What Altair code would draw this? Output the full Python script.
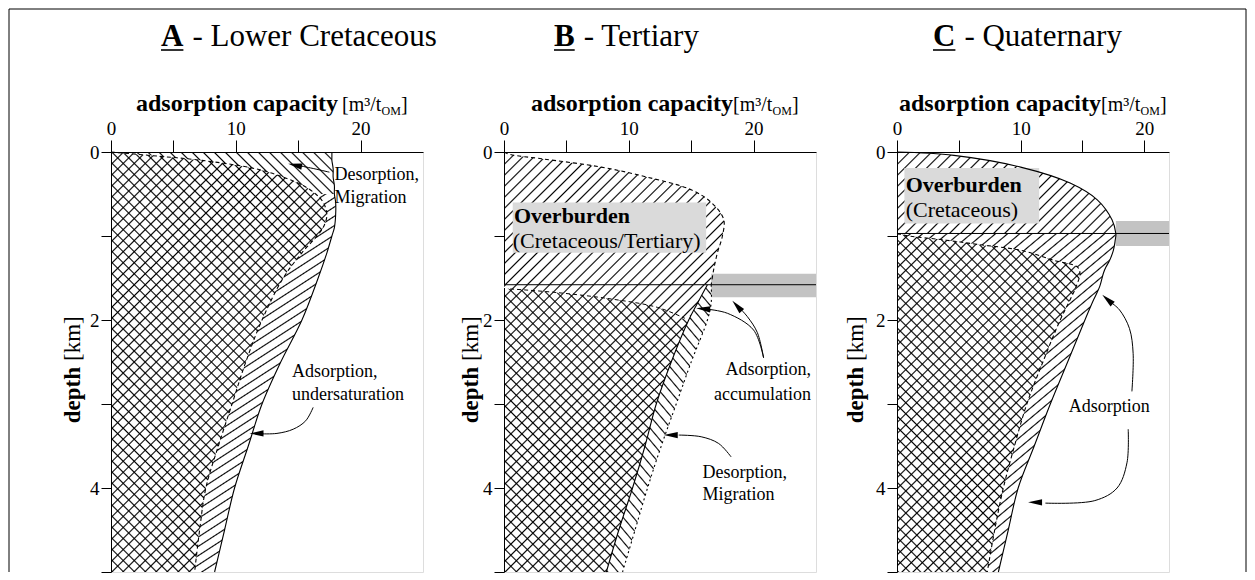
import altair as alt
import pandas as pd
import numpy as np

SERIF = "'Liberation Serif', 'Times New Roman', Times, serif"
H = 420
PY = H / 5.0
WA, WB, WC = 312, 312, 272
DOMA, DOMB, DOMC = [0, 25], [0, 25], [0, 22]
PXA, PXB, PXC = WA / 25.0, WB / 25.0, WC / 22.0

# ---------------- data ----------------
# Panel A - Lower Cretaceous
A_depth = [0, 0.05, 0.1, 0.2, 0.3, 0.4, 0.5, 0.6, 0.75, 0.9, 1.0, 1.2, 1.5, 2.0, 2.5, 3.0, 3.5, 4.0, 4.5, 5.0]
A_inner = [0, 3.8, 7.3, 11.6, 13.8, 15.4, 16.4, 17.0, 17.3, 17.0, 16.5, 15.3, 13.8, 12.1, 10.8, 9.7, 8.6, 7.6, 7.1, 6.7]
A_outer = [17.7, 17.7, 17.7, 17.8, 17.8, 17.9, 17.9, 18.0, 18.0, 17.9, 17.7, 17.3, 16.6, 15.3, 13.6, 12.1, 11.0, 9.9, 9.1, 8.3]

# Panel B - Tertiary
B_over_depth = [0, 0.03, 0.08, 0.18, 0.3, 0.45, 0.6, 0.8, 1.0, 1.2, 1.4, 1.58]
B_over_x = [0, 0.5, 3.0, 7.8, 11.5, 15.0, 16.6, 17.6, 17.5, 17.1, 16.8, 16.6]
B_low_depth = [1.58, 1.8, 2.0, 2.5, 3.0, 3.5, 4.0, 4.5, 5.0]
B_low_solid = [16.3, 15.5, 14.8, 13.4, 12.2, 11.3, 10.3, 9.2, 8.2]
B_low_dash = [16.6, 16.6, 16.3, 15.0, 13.8, 12.6, 11.5, 10.5, 9.5]
B_strip_x = [0, 0.5, 4.0, 8.6, 12.3, 14.5, 15.2, 15.8, 16.3]
B_strip_depth = [1.62, 1.63, 1.67, 1.75, 1.85, 1.98, 1.89, 1.72, 1.58]
B_base_depth = 1.58

# Panel C - Quaternary
C_up_depth = [0, 0.04, 0.18, 0.37, 0.57, 0.81, 0.97]
C_up_outer = [0, 4.6, 10.0, 14.0, 16.2, 17.4, 17.7]
C_low_depth = [0.97, 1.0, 1.05, 1.1, 1.17, 1.29, 1.37, 1.44, 1.6, 1.76, 2.0, 2.5, 3.0, 3.5, 4.0, 4.5, 5.0]
C_low_outer = [17.7, 17.7, 17.65, 17.6, 17.5, 17.2, 16.9, 16.7, 16.4, 15.9, 15.2, 13.8, 12.4, 11.1, 9.8, 9.0, 8.2]
C_low_inner = [0, 1.0, 4.0, 6.5, 10.0, 12.7, 14.6, 14.8, 14.5, 14.0, 13.2, 11.8, 10.5, 9.5, 8.6, 7.9, 7.3]
C_base_depth = 0.97

# shaded boxes: x0, x1, depth0, depth1
B_label_box = [0.7, 16.2, 0.6, 1.2]
B_band = [16.6, 25.0, 1.45, 1.73]
C_label_box = [0.6, 11.5, 0.19, 0.85]
C_band = [17.7, 22.0, 0.82, 1.12]

# annotation texts: (text, x, depth, align)
A_notes = [("Desorption,", 17.9, 0.33, "left"), ("Migration", 17.9, 0.61, "left"),
           ("Adsorption,", 14.5, 2.68, "left"), ("undersaturation", 14.5, 2.95, "left")]
B_notes = [("Adsorption,", 24.6, 2.65, "right"), ("accumulation", 24.6, 2.95, "right"),
           ("Desorption,", 15.9, 3.88, "left"), ("Migration", 15.9, 4.14, "left")]
C_notes = [("Adsorption", 13.9, 3.1, "left")]
B_over_labels = [("Overburden", 0.8, 0.85, "bold"), ("(Cretaceous/Tertiary)", 0.7, 1.14, "normal")]
C_over_labels = [("Overburden", 0.7, 0.48, "bold"), ("(Cretaceous)", 0.7, 0.77, "normal")]

# arrows: (curve x list, curve depth list, tip x, tip depth, angle)
A_arrows = [([17.5, 16.0, 14.8], [0.24, 0.19, 0.155], 14.2, 0.14, 12),
            ([16.2, 15.6, 14.6, 13.3, 12.0], [3.04, 3.2, 3.3, 3.35, 3.355], 11.1, 3.35, 0)]
B_arrows = [([20.8, 20.0, 17.9, 16.2], [2.45, 2.12, 1.92, 1.87], 15.4, 1.86, 5),
            ([20.8, 20.3, 19.5, 18.7], [2.45, 2.15, 1.96, 1.83], 18.3, 1.77, 48),
            ([18.2, 17.2, 15.8, 14.0], [3.63, 3.47, 3.39, 3.37], 12.8, 3.37, 0)]
C_arrows = [([19.0, 19.1, 18.8, 18.0, 17.3], [2.85, 2.4, 2.1, 1.88, 1.79], 16.6, 1.7, 42),
            ([18.7, 18.6, 17.8, 16.0, 12.0], [3.3, 3.7, 4.0, 4.15, 4.18], 10.6, 4.17, 0)]

X_TICKS = [0, 5, 10, 15, 20]
Y_TICKS = [0, 1, 2, 3, 4, 5]

# ---------------- styling helpers ----------------
XAXIS = alt.Axis(orient="top", values=X_TICKS, tickSize=12, tickWidth=1, tickColor="black",
                 domainColor="black", domainWidth=1, labelFont=SERIF, labelFontSize=19,
                 labelColor="black", labelPadding=2, labelFlush=False, labelOverlap=False,
                 labelAngle=0, grid=False, title=None,
                 labelExpr="datum.value % 10 === 0 ? datum.label : ''")
YAXIS = alt.Axis(orient="left", values=Y_TICKS, tickSize=10, tickWidth=1, tickColor="black",
                 domainColor="black", domainWidth=1, labelFont=SERIF, labelFontSize=19,
                 labelColor="black", labelPadding=2, labelFlush=False, labelOverlap=False,
                 grid=False, title=None,
                 labelExpr="(datum.value % 2 === 0 && datum.value < 5) ? datum.label : ''")


def xs(field, dom):
    return alt.X(f"{field}:Q", scale=alt.Scale(domain=dom, nice=False, zero=False), axis=XAXIS)


def ys(field):
    return alt.Y(f"{field}:Q", scale=alt.Scale(domain=[0, 5], reverse=True, nice=False, zero=False),
                 axis=YAXIS)


def hatch(w, h, ang, spacing=7.8, lw=1.1):
    """Striped linear gradient (antialiased triangular stripe profile) at angle `ang`."""
    a = np.radians(ang)
    nx, ny = np.sin(a), np.cos(a)
    R = abs(nx) * w + abs(ny) * h
    gx, gy = nx * w / R, ny * h / R
    gg = gx * gx + gy * gy
    ux, uy = gx / gg, gy / gg
    x1 = 0.0 if nx >= 0 else 1.0
    y1 = 0.0 if ny >= 0 else 1.0
    P = spacing / R
    L = lw / R
    on, off = "rgba(0,0,0,1)", "rgba(0,0,0,0)"
    stops = []
    t = 0.0
    while t + 2 * L < 1.0:
        stops += [(t, off), (t + L, on), (t + 2 * L, off)]
        t += P
    stops.append((1.0, off))
    return alt.Gradient(gradient="linear", x1=round(x1, 5), y1=round(y1, 5),
                        x2=round(x1 + ux, 5), y2=round(y1 + uy, 5),
                        stops=[alt.GradientStop(offset=round(o, 6), color=c) for o, c in stops])


def harea(df, lo, hi, dom, pxu, ang, spacing=7.8):
    wpx = (df[hi].max() - df[lo].min()) * pxu
    hpx = (df["d"].max() - df["d"].min()) * PY
    return alt.Chart(df).mark_area(orient="horizontal", interpolate="catmull-rom",
                                   fill=hatch(wpx, hpx, ang, spacing), opacity=1, strokeWidth=0).encode(
        y=ys("d"), x=xs(lo, dom), x2=alt.X2(f"{hi}:Q"))


def vline(df, field, dom, dash=None, width=1.1):
    kw = dict(interpolate="catmull-rom", color="black", strokeWidth=width)
    if dash:
        kw["strokeDash"] = dash
    return alt.Chart(df).mark_line(**kw).encode(y=ys("d"), x=xs(field, dom), order=alt.Order("d:Q"))


def box(b, dom, color):
    df = pd.DataFrame({"x0": [b[0]], "x1": [b[1]], "d0": [b[2]], "d1": [b[3]]})
    return alt.Chart(df).mark_rect(color=color, opacity=1).encode(
        x=xs("x0", dom), x2="x1", y=ys("d0"), y2="d1")


def hrule(depth, x1, dom):
    df = pd.DataFrame({"x0": [0.0], "x1": [x1], "d": [depth]})
    return alt.Chart(df).mark_rule(color="black", strokeWidth=1).encode(
        x=xs("x0", dom), x2="x1", y=ys("d"))


ARROW = "M -1 0 L 1 -0.45 L 1 0.45 Z"


def arrows(lst, dom, pxu):
    rows, heads = [], []
    for g, (cx, cd, tx, td, ang) in enumerate(lst):
        for o, (x, d) in enumerate(zip(cx, cd)):
            rows.append({"x": x, "d": d, "g": g, "o": o})
        th = np.radians(ang)
        heads.append({"x": tx + np.cos(th) * 7 / pxu, "d": td + np.sin(th) * 7 / PY, "ang": ang})
    lines = alt.Chart(pd.DataFrame(rows)).mark_line(interpolate="catmull-rom", color="black",
                                                    strokeWidth=1).encode(
        x=xs("x", dom), y=ys("d"), detail="g:N", order="o:Q")
    pts = alt.Chart(pd.DataFrame(heads)).mark_point(shape=ARROW, filled=True, size=196, color="black",
                                                   opacity=1, strokeWidth=0).encode(
        x=xs("x", dom), y=ys("d"), angle=alt.Angle("ang:Q", scale=None))
    return [lines, pts]


def notes(lst, dom, size=18):
    out = []
    for al in ["left", "right"]:
        sub = [r for r in lst if r[3] == al]
        if not sub:
            continue
        df = pd.DataFrame({"t": [r[0] for r in sub], "x": [r[1] for r in sub], "d": [r[2] for r in sub]})
        out.append(alt.Chart(df).mark_text(font=SERIF, fontSize=size, align=al, baseline="alphabetic",
                                           color="black").encode(x=xs("x", dom), y=ys("d"), text="t:N"))
    return out


def over_labels(lst, dom):
    out = []
    for t, x, d, wt in lst:
        df = pd.DataFrame({"t": [t], "x": [x], "d": [d]})
        out.append(alt.Chart(df).mark_text(font=SERIF, fontSize=22, fontWeight=wt, align="left",
                                           baseline="alphabetic", color="black").encode(
            x=xs("x", dom), y=ys("d"), text="t:N"))
    return out


ONE = pd.DataFrame({"k": [0]})


def ptext(txt, x, y, size, weight="normal", align="left", angle=0, baseline="alphabetic"):
    kw = dict(text=txt, font=SERIF, fontSize=size, fontWeight=weight, align=align,
              baseline=baseline, color="black")
    if angle:
        kw["angle"] = angle
    return alt.Chart(ONE).mark_text(**kw).encode(x=alt.value(x), y=alt.value(y))


def prule(x, y, x2=None, y2=None, width=1.0):
    enc = dict(x=alt.value(x), y=alt.value(y))
    if x2 is not None:
        enc["x2"] = alt.value(x2)
    if y2 is not None:
        enc["y2"] = alt.value(y2)
    return alt.Chart(ONE).mark_rule(color="black", strokeWidth=width).encode(**enc)


def decorations(letter, rest, x0, lw, jx, jb, ytx):
    ty = -106
    return [
        ptext(letter, x0, ty, 31, "bold"),
        prule(x0, ty + 4, x2=x0 + lw, width=1.6),
        ptext(rest, x0 + lw + 9, ty, 31),
        ptext("adsorption capacity", jx, -41, 24, "bold", align="right"),
        ptext("[m\u00b3/t", jb, -41, 20),
        ptext("OM", jb + 39.5, -37, 12),
        ptext("]", jb + 59, -41, 20),
        ptext("depth", ytx, 215, 23, "bold", align="right", angle=270, baseline="middle"),
        ptext("[km]", ytx, 209, 23, "normal", align="left", angle=270, baseline="middle"),
    ]


# ---------------- Panel A ----------------
dfA = pd.DataFrame({"d": A_depth, "zero": 0.0, "inner": A_inner, "outer": A_outer})
dfA_top = dfA[dfA["d"] <= 0.5].reset_index(drop=True)
dfA_low = dfA[dfA["d"] >= 0.5].reset_index(drop=True)

layersA = [
    harea(dfA, "zero", "inner", DOMA, PXA, 45),
    harea(dfA, "zero", "inner", DOMA, PXA, 135),
    harea(dfA_top, "inner", "outer", DOMA, PXA, 135),
    harea(dfA_low, "inner", "outer", DOMA, PXA, 33),
    vline(dfA, "outer", DOMA),
    vline(dfA, "inner", DOMA, dash=[4, 3]),
] + arrows(A_arrows, DOMA, PXA) + notes(A_notes, DOMA) + decorations(
    "A", "- Lower Cretaceous", 50, 22.4, 227, 231, -38) + [
    prule(-102, -143, x2=1135), prule(-102, -143, y2=H), prule(1135, -143, y2=H)]
panelA = alt.layer(*layersA).properties(width=WA, height=H)

# ---------------- Panel B ----------------
dfBo = pd.DataFrame({"d": B_over_depth, "zero": 0.0, "over": B_over_x})
dfBl = pd.DataFrame({"d": B_low_depth, "zero": 0.0, "solid": B_low_solid, "dash": B_low_dash})
dfBs = pd.DataFrame({"x": B_strip_x, "top": B_base_depth, "bot": B_strip_depth})
ws = (max(B_strip_x) - min(B_strip_x)) * PXB
hs = (max(B_strip_depth) - B_base_depth) * PY
strip_white = alt.Chart(dfBs).mark_area(orient="vertical", interpolate="catmull-rom", color="white",
                                        opacity=1).encode(x=xs("x", DOMB), y=ys("top"), y2="bot")
strip_hatch = alt.Chart(dfBs).mark_area(orient="vertical", interpolate="catmull-rom",
                                        fill=hatch(ws, hs, 45), opacity=1, strokeWidth=0).encode(
    x=xs("x", DOMB), y=ys("top"), y2="bot")
strip_line = alt.Chart(dfBs.iloc[1:6]).mark_line(interpolate="catmull-rom", color="black",
                                                 strokeWidth=1, strokeDash=[4, 3]).encode(
    x=xs("x", DOMB), y=ys("bot"))

layersB = [
    harea(dfBo, "zero", "over", DOMB, PXB, 45),
    box(B_label_box, DOMB, "#dadada"),
    harea(dfBl, "zero", "solid", DOMB, PXB, 45),
    harea(dfBl, "zero", "solid", DOMB, PXB, 135),
    harea(dfBl, "solid", "dash", DOMB, PXB, 130),
    strip_white, strip_hatch, strip_line,
    box(B_band, DOMB, "#c3c3c3"),
    vline(dfBo, "over", DOMB, dash=[4, 3]),
    vline(dfBl, "solid", DOMB),
    vline(dfBl, "dash", DOMB, dash=[2, 3]),
    hrule(B_base_depth, 25, DOMB),
] + over_labels(B_over_labels, DOMB) + arrows(B_arrows, DOMB, PXB) + notes(B_notes, DOMB) + decorations(
    "B", "- Tertiary", 50, 20.7, 229, 229, -33)
panelB = alt.layer(*layersB).properties(width=WB, height=H)

# ---------------- Panel C ----------------
dfCu = pd.DataFrame({"d": C_up_depth, "zero": 0.0, "outer": C_up_outer})
dfCl = pd.DataFrame({"d": C_low_depth, "zero": 0.0, "inner": C_low_inner, "outer": C_low_outer})
dfCall = pd.DataFrame({"d": C_up_depth[:-1] + C_low_depth, "outer": C_up_outer[:-1] + C_low_outer})

layersC = [
    harea(dfCu, "zero", "outer", DOMC, PXC, 45),
    box(C_label_box, DOMC, "#dadada"),
    harea(dfCl, "inner", "outer", DOMC, PXC, 40),
    harea(dfCl, "zero", "inner", DOMC, PXC, 45),
    harea(dfCl, "zero", "inner", DOMC, PXC, 135),
    box(C_band, DOMC, "#c3c3c3"),
    vline(dfCall, "outer", DOMC),
    vline(dfCl, "inner", DOMC, dash=[4, 3]),
    hrule(C_base_depth, 22, DOMC),
] + over_labels(C_over_labels, DOMC) + arrows(C_arrows, DOMC, PXC) + notes(C_notes, DOMC) + decorations(
    "C", "- Quaternary", 36, 22.4, 204, 204, -41)
panelC = alt.layer(*layersC).properties(width=WC, height=H)

chart = alt.hconcat(panelA, panelB, panelC, spacing=81, bounds="flush", padding=0).configure_view(
    stroke="black", strokeWidth=1.2).configure(background="white")

chart.save("out.html", embed_options={"renderer": "svg", "actions": False})
